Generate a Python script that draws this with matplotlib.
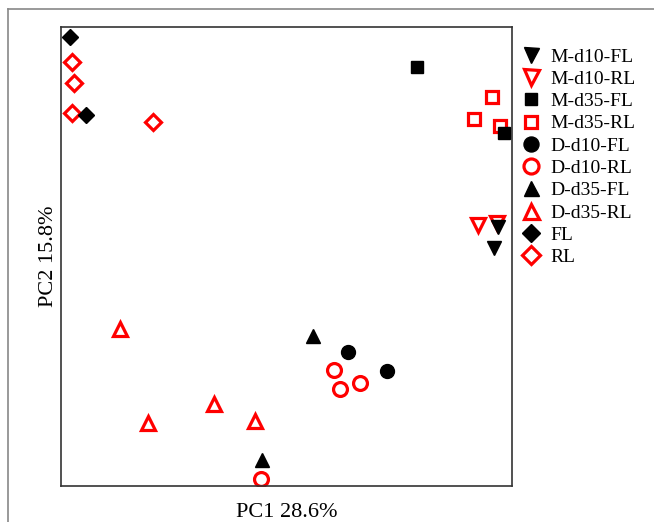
import matplotlib.pyplot as plt
from matplotlib.lines import Line2D

plt.rcParams['font.family'] = ['Liberation Serif', 'DejaVu Serif']

# -----------------------------
# PCA scores
# -----------------------------
groups = ['M-d10-FL', 'M-d10-RL', 'M-d35-FL', 'M-d35-RL',
          'D-d10-FL', 'D-d10-RL', 'D-d35-FL', 'D-d35-RL', 'FL', 'RL']

pc1 = {
    'M-d10-FL': [2.12, 2.08],
    'M-d10-RL': [1.92, 2.11],
    'M-d35-FL': [1.31, 2.18],
    'M-d35-RL': [2.06, 1.88, 2.14],
    'D-d10-FL': [0.62, 1.01],
    'D-d10-RL': [0.48, 0.54, 0.74, -0.25],
    'D-d35-FL': [0.27, -0.24],
    'D-d35-RL': [-1.66, -1.38, -0.72, -0.31],
    'FL': [-2.16, -2.00],
    'RL': [-2.14, -2.12, -2.14, -1.33],
}
pc2 = {
    'M-d10-FL': [0.29, 0.08],
    'M-d10-RL': [0.31, 0.33],
    'M-d35-FL': [1.89, 1.23],
    'M-d35-RL': [1.59, 1.37, 1.30],
    'D-d10-FL': [-0.96, -1.15],
    'D-d10-RL': [-1.14, -1.33, -1.27, -2.23],
    'D-d35-FL': [-0.80, -2.04],
    'D-d35-RL': [-0.73, -1.67, -1.48, -1.65],
    'FL': [2.19, 1.41],
    'RL': [1.94, 1.73, 1.43, 1.34],
}

markers = {'M-d10': 'v', 'M-d35': 's', 'D-d10': 'o', 'D-d35': '^', '': 'D'}
sizes = {'v': 10, 's': 8.5, 'o': 10, '^': 10, 'D': 8.5}

fig = plt.figure(figsize=(6.54, 5.22), dpi=100)
ax = fig.add_axes([61 / 654, 36 / 522, 451 / 654, 459 / 522])

handles = []
for g in groups:
    key = g.rsplit('-', 1)[0] if '-' in g else ''
    m = markers[key]
    if g.endswith('RL'):
        style = dict(marker=m, ms=sizes[m], mfc='white', mec='red', mew=2.3, zorder=2)
    else:
        style = dict(marker=m, ms=sizes[m], mfc='black', mec='black', mew=1, zorder=3)
    h, = ax.plot(pc1[g], pc2[g], linestyle='none', label=g, **style)
    handles.append(h)

ax.set_xlim(-2.25, 2.26)
ax.set_ylim(-2.30, 2.29)
ax.set_xticks([])
ax.set_yticks([])
for s in ax.spines.values():
    s.set_color('#333333')
    s.set_linewidth(1.2)

ax.set_xlabel('PC1 28.6%', fontsize=16, labelpad=12)
ax.set_ylabel('PC2 15.8%', fontsize=16, labelpad=2)

fig.legend(handles=handles, loc='upper left', bbox_to_anchor=(521 / 654, 1 - 48 / 522),
           frameon=False, fontsize=14, handlelength=1.0, handletextpad=0.5,
           labelspacing=0.24, borderpad=0, borderaxespad=0, markerscale=1.08)

# grey outer frame (runs off the right and bottom edges)
fig.add_artist(Line2D([7.5 / 654, 1], [1 - 9 / 522, 1 - 9 / 522], color='#888888', lw=1.2))
fig.add_artist(Line2D([7.5 / 654, 7.5 / 654], [0, 1 - 9 / 522], color='#888888', lw=1.2))

fig.savefig('out.png', dpi=100)
plt.close()
